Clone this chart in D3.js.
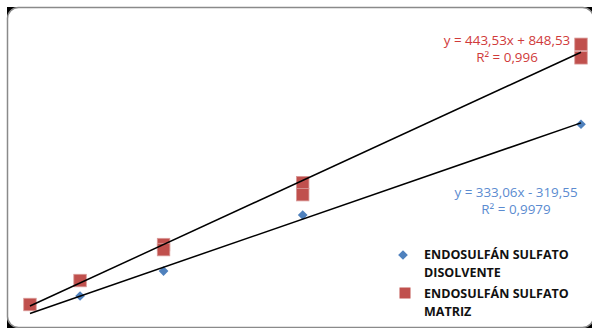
<!DOCTYPE html>
<html><head><meta charset="utf-8">
<script src="https://cdn.jsdelivr.net/npm/d3@7"></script>
<style>html,body{margin:0;padding:0;background:#fff;}svg{display:block;}</style>
</head><body>
<svg id="c" width="592" height="328"></svg>
<script>
// Data (x = concentration levels, y = response)
const disolventeX = [10, 25, 50, 100];
const disolventeY = [3024, 7344, 17021, 32746];
const matrizX = [1, 10, 25, 25, 50, 50, 100, 100];
const matrizY = [1555, 5702, 11923, 11059, 22637, 20563, 46570, 44237];
const seriesNames = ["ENDOSULFÁN SULFATO", "ENDOSULFÁN SULFATO"];
const seriesSub = ["DISOLVENTE", "MATRIZ"];
const trendSlopes = [333.06, 443.53];
const trendIntercepts = [-319.55, 848.53];
const trendLabels = [["y = 333,06x - 319,55", "R² = 0,9979"], ["y = 443,53x + 848,53", "R² = 0,996"]];
const trendRange = [1, 100];

const svg = d3.select("#c");
// frame
svg.append("rect").attr("x",7).attr("y",7).attr("width",600).attr("height",330).attr("fill","#000");
svg.append("rect").attr("x",7.5).attr("y",7.5).attr("width",586).attr("height",320).attr("rx",11).attr("ry",11)
  .attr("fill","#fff").attr("stroke","#8a8a8a").attr("stroke-width",1.5);

const x = d3.scaleLinear().domain([0,100]).range([24.4,581]);
const y = d3.scaleLinear().domain([0,50000]).range([313.5,24.5]);

const blue = "#4F81BD", red = "#C0504D";

const line = d3.line().x(d=>x(d[0])).y(d=>y(d[1]));
// red squares
const sq = 12.5;
svg.append("g").selectAll("rect").data(matrizX.map((v,i)=>[v, matrizY[i]])).join("rect")
  .attr("x",d=>x(d[0])-sq/2).attr("y",d=>y(d[1])-sq/2).attr("width",sq).attr("height",sq)
  .attr("fill",red).attr("stroke","#d99a98").attr("stroke-width",0.8);
// blue diamonds
const diamond = d3.symbol().type(d3.symbolDiamond2).size(60);
svg.append("g").selectAll("path").data(disolventeX.map((v,i)=>[v, disolventeY[i]])).join("path")
  .attr("d", diamond).attr("transform",d=>`translate(${x(d[0])},${y(d[1])})`).attr("fill",blue);
// trendlines
[0,1].forEach(i=>{
  const pts = trendRange.map(v=>[v, trendSlopes[i]*v + trendIntercepts[i]]);
  svg.append("path").attr("d", line(pts)).attr("fill","none").attr("stroke","#000").attr("stroke-width",1.5);
});

const font = "'Open Sans', 'Liberation Sans', sans-serif";
// equations
const eqPos = [[516,196.5,214],[507,45,62]];
const eqCol = ["#5b8bd0","#d03a3a"];
[0,1].forEach(i=>{
  trendLabels[i].forEach((t,j)=>{
    svg.append("text").attr("x",eqPos[i][0]).attr("y",eqPos[i][1+j]).attr("text-anchor","middle")
      .attr("font-family",font).attr("font-size",13.4).attr("fill",eqCol[i]).text(t);
  });
});

// legend
const lg = svg.append("g").attr("font-family",font).attr("font-weight","bold").attr("font-size",12.5).attr("fill","#111");
lg.append("path").attr("d",diamond).attr("transform","translate(403,255)").attr("fill",blue);
lg.append("rect").attr("x",399.5).attr("y",287.5).attr("width",11).attr("height",11).attr("fill",red);
lg.append("text").attr("x",424).attr("y",259).text(seriesNames[0]);
lg.append("text").attr("x",424).attr("y",277).text(seriesSub[0]);
lg.append("text").attr("x",424).attr("y",298).text(seriesNames[1]);
lg.append("text").attr("x",424).attr("y",316).text(seriesSub[1]);
</script>
</body></html>
